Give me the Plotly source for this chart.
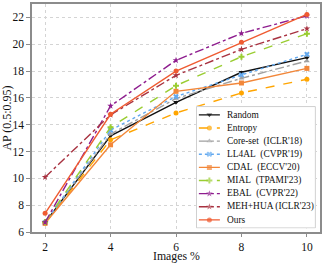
import plotly.graph_objects as go

# ---------------- data ----------------
images_pct = [2, 4, 6, 8, 10]
random_ap = [6.70, 13.17, 15.67, 17.91, 19.00]
entropy_ap = [6.65, 12.87, 14.88, 16.37, 17.39]
coreset_ap = [6.70, 13.30, 15.95, 17.46, 18.75]
ll4al_ap = [6.70, 13.60, 16.10, 17.71, 19.25]
cdal_ap = [6.65, 12.50, 16.49, 17.11, 18.20]
mial_ap = [6.75, 13.81, 16.91, 19.07, 20.78]
ebal_ap = [6.72, 15.40, 18.80, 20.81, 22.12]
mehhua_ap = [10.09, 14.73, 17.68, 19.62, 21.16]
ours_ap = [7.39, 14.78, 18.00, 20.14, 22.22]

x_ticks = [2, 4, 6, 8, 10]
y_ticks = [6, 8, 10, 12, 14, 16, 18, 20, 22]

series = [
    ("Random", random_ap, "#111111", "solid", "triangle-down"),
    ("Entropy", entropy_ap, "#FFA500", "dash", "circle"),
    ("Core-set\u00a0\u00a0(ICLR'18)", coreset_ap, "#A0A0A0", "dashdot", "triangle-up"),
    ("LL4AL\u00a0\u00a0(CVPR'19)", ll4al_ap, "#63A9EF", "dot", "x"),
    ("CDAL\u00a0\u00a0(ECCV'20)", cdal_ap, "#F2873A", "solid", "square"),
    ("MIAL\u00a0\u00a0(TPAMI'23)", mial_ap, "#9ACD32", "dash", "cross"),
    ("EBAL\u00a0\u00a0(CVPR'22)", ebal_ap, "#8E1C8E", "dashdot", "star"),
    ("MEH+HUA (ICLR'23)", mehhua_ap, "#A83240", "dashdot", "star"),
    ("Ours", ours_ap, "#EF5B31", "solid", "circle"),
]

FONT = "Liberation Serif, Times New Roman, serif"
GRID = "#d4d4d4"
FRAME = "#8c8c8c"

fig = go.Figure()

for name, vals, color, dash, sym in series:
    fig.add_trace(go.Scatter(
        x=images_pct, y=vals, name=name, mode="lines+markers",
        line=dict(color=color, width=1.4, dash=dash),
        marker=dict(color=color, size=5, symbol=sym, line=dict(width=0)),
        showlegend=False, xaxis="x", yaxis="y",
    ))

# ---------------- custom legend (layout element on an overlay axis) ----------------
n = len(series)
top_pad, bot_pad = 0.68, 0.66
fig.add_trace(go.Scatter(
    x=[0.005, 0.995, 0.995, 0.005, 0.005],
    y=[-top_pad + 0.05, -top_pad + 0.05, n - 1 + bot_pad - 0.05, n - 1 + bot_pad - 0.05, -top_pad + 0.05],
    mode="lines", fill="toself", fillcolor="rgba(255,255,255,0.88)",
    line=dict(color="#cfcfcf", width=1), showlegend=False, hoverinfo="skip",
    xaxis="x2", yaxis="y2",
))
for i, (name, vals, color, dash, sym) in enumerate(series):
    fig.add_trace(go.Scatter(
        x=[0.025, 0.1125, 0.20], y=[i, i, i], mode="lines+markers",
        line=dict(color=color, width=1.4, dash=dash),
        marker=dict(color=color, size=[0, 5, 0], symbol=sym, line=dict(width=0)),
        showlegend=False, hoverinfo="skip", xaxis="x2", yaxis="y2",
    ))
    fig.add_annotation(
        x=0.242, y=i, xref="x2", yref="y2", text=name, showarrow=False,
        xanchor="left", yanchor="middle",
        font=dict(family=FONT, size=9.4, color="#111111"),
    )

# x-axis title as a paper-anchored annotation
fig.add_annotation(
    x=0.5, y=-0.139, xref="paper", yref="paper", text="Images %", showarrow=False,
    xanchor="center", yanchor="bottom", borderpad=0,
    font=dict(family=FONT, size=11.8, color="#111111"),
)

fig.update_layout(
    width=324, height=264,
    margin=dict(l=32, r=4, t=4, b=32),
    paper_bgcolor="white", plot_bgcolor="white",
    font=dict(family=FONT, color="#111111"),
    showlegend=False,
    xaxis=dict(
        range=[1.6, 10.4], tickvals=x_ticks, ticktext=[str(v) for v in x_ticks],
        showgrid=True, gridcolor=GRID, griddash="dot", gridwidth=1,
        zeroline=False, showline=True, mirror=True, linecolor=FRAME, linewidth=1.6,
        ticks="outside", ticklen=3, tickcolor=FRAME, tickwidth=1,
        tickfont=dict(family=FONT, size=11.5, color="#111111"),
        automargin=False,
    ),
    yaxis=dict(
        range=[6, 23], tickvals=y_ticks, ticktext=[str(v) for v in y_ticks],
        showgrid=True, gridcolor=GRID, griddash="dot", gridwidth=1,
        zeroline=False, showline=True, mirror=True, linecolor=FRAME, linewidth=1.6,
        ticks="outside", ticklen=4, tickcolor=FRAME, tickwidth=1,
        tickfont=dict(family=FONT, size=11.5, color="#111111"),
        title=dict(text="AP (0.5:0.95)", font=dict(family=FONT, size=12), standoff=1),
        automargin=False,
    ),
    xaxis2=dict(domain=[0.569, 0.986], range=[0, 1], anchor="y2",
                visible=False, fixedrange=True),
    yaxis2=dict(domain=[0.015, 0.553], range=[n - 1 + bot_pad, -top_pad], anchor="x2",
                visible=False, fixedrange=True),
)

fig.write_html("out.html", config={"displayModeBar": False},
               post_script="document.body.style.margin='0';")
